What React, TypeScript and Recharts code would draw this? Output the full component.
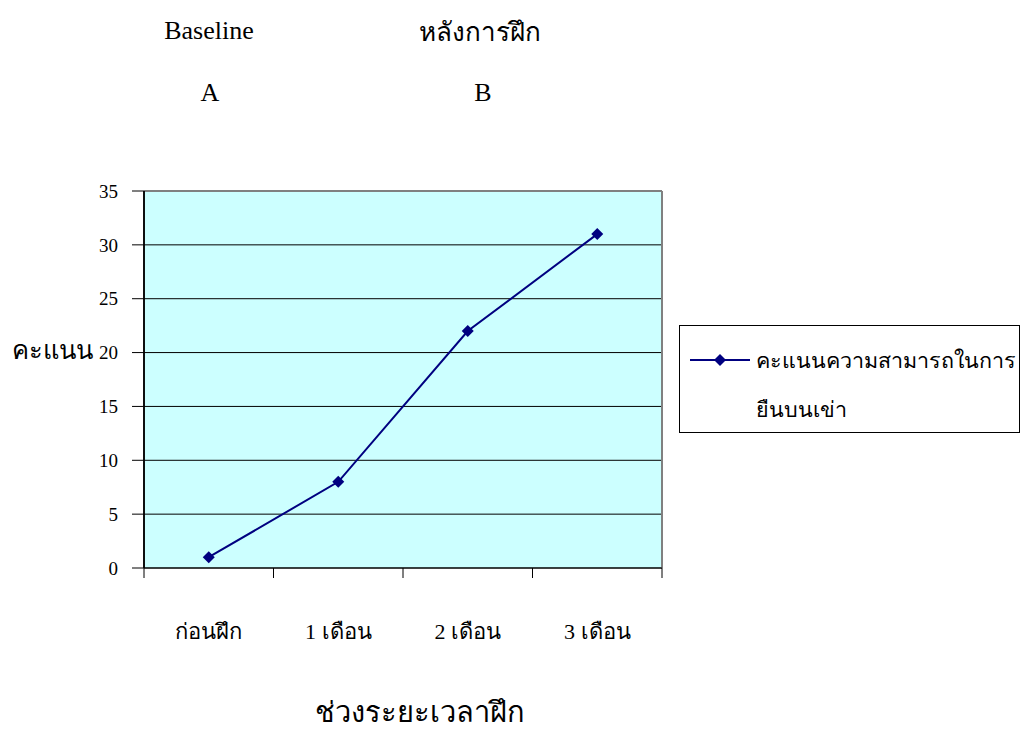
import {
  CartesianGrid,
  Line,
  LineChart,
  ReferenceLine,
  XAxis,
  YAxis,
} from "recharts";

const periods = ["ก่อนฝึก", "1 เดือน", "2 เดือน", "3 เดือน"];
const scores = [1, 8, 22, 31];
const yTicks = [0, 5, 10, 15, 20, 25, 30, 35];
const seriesName = "คะแนนความสามารถในการยืนบนเข่า";

// each period sits in the middle of its slot on a 0..n axis
const data = periods.map((period, i) => ({ period, pos: i + 0.5, score: scores[i] }));
const boundaries = periods.map((_, i) => i).concat(periods.length);

const serif = '"Liberation Serif", "Times New Roman", serif';
const thai = '"Noto Sans", "DejaVu Sans", sans-serif';
const navy = "#000080";

const plotLeft = 144;
const plotRight = 662;
const halfSlot = (plotRight - plotLeft) / periods.length / 2;

const Diamond = (props: any) => {
  const { cx, cy } = props;
  if (cx == null || cy == null) return null;
  const r = 6;
  return (
    <polygon
      points={`${cx},${cy - r} ${cx + r},${cy} ${cx},${cy + r} ${cx - r},${cy}`}
      fill={navy}
    />
  );
};

const PeriodTick = ({ x, y, payload }: any) => {
  const name = periods[payload.value];
  if (!name) return <g />;
  return (
    <text
      x={x + halfSlot}
      y={y + 59}
      textAnchor="middle"
      fontFamily={serif}
      fontSize={22}
      fill="#000"
    >
      {name}
    </text>
  );
};

// legend drawn as a boxed key beside the plot
const LegendBox = () => (
  <div
    style={{
      position: "absolute",
      left: 679,
      top: 325,
      width: 339,
      height: 106,
      border: "1px solid #000",
      background: "#fff",
      fontFamily: thai,
      fontSize: 21.5,
      color: "#000",
    }}
  >
    <svg width={62} height={20} style={{ position: "absolute", left: 10, top: 24 }}>
      <line x1={0} y1={10} x2={60} y2={10} stroke={navy} strokeWidth={2} />
      <polygon points="30,4 36,10 30,16 24,10" fill={navy} />
    </svg>
    <div style={{ position: "absolute", left: 76, top: 9, width: 262, lineHeight: "49px" }}>
      {seriesName}
    </div>
  </div>
);

const label = (
  text: string,
  x: number,
  y: number,
  font: string,
  size: number
) => (
  <div
    style={{
      position: "absolute",
      left: x,
      top: y,
      transform: "translate(-50%, -50%)",
      fontFamily: font,
      fontSize: size,
      lineHeight: 1.1,
      whiteSpace: "nowrap",
      color: "#000",
    }}
  >
    {text}
  </div>
);

export default function App() {
  return (
    <div
      style={{
        position: "absolute",
        left: 0,
        top: 0,
        width: 1022,
        height: 731,
        background: "#fff",
      }}
    >
      <LineChart
        width={1022}
        height={731}
        data={data}
        margin={{ top: 191, right: 1022 - plotRight, bottom: 93, left: plotLeft - 60 }}
      >
        <CartesianGrid vertical={false} stroke="#000" fill="#CCFFFF" fillOpacity={1} />
        <XAxis
          dataKey="pos"
          type="number"
          domain={[0, periods.length]}
          ticks={boundaries}
          interval={0}
          tickSize={10}
          height={70}
          axisLine={{ stroke: "#000" }}
          tickLine={{ stroke: "#000" }}
          tick={<PeriodTick />}
        />
        <YAxis
          domain={[0, 35]}
          ticks={yTicks}
          width={60}
          tickSize={12}
          tickMargin={14}
          stroke="#000"
          axisLine={{ stroke: "#000", strokeWidth: 1.5 }}
          tickLine={{ stroke: "#000" }}
          tick={{ fill: "#000", fontSize: 19, fontFamily: serif }}
        />
        <ReferenceLine y={35} stroke="#808080" strokeWidth={2} />
        <ReferenceLine x={periods.length} stroke="#808080" strokeWidth={2} />
        <ReferenceLine x={0} stroke="#000" strokeWidth={1.5} ifOverflow="visible" />
        <Line
          type="linear"
          dataKey="score"
          name={seriesName}
          stroke={navy}
          strokeWidth={2}
          dot={<Diamond />}
          activeDot={false}
          isAnimationActive={false}
        />
      </LineChart>
      <LegendBox />
      {label("Baseline", 209, 31, serif, 26)}
      {label("หลังการฝึก", 480, 31, thai, 26)}
      {label("A", 210, 93, serif, 26)}
      {label("B", 483, 93, serif, 26)}
      {label("คะแนน", 52, 349, thai, 25.5)}
      {label("ช่วงระยะเวลาฝึก", 420, 711, thai, 29)}
    </div>
  );
}
